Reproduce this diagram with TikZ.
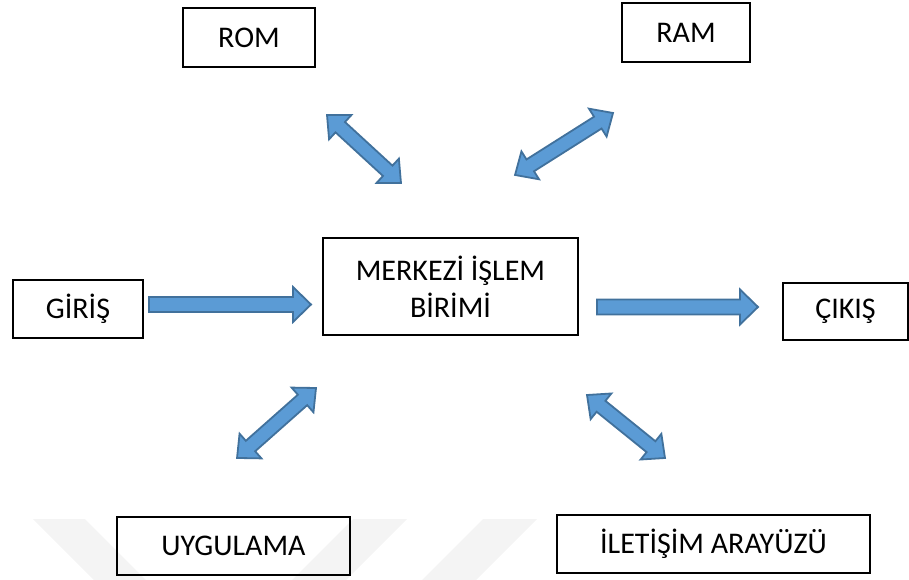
\documentclass[tikz,border=0pt]{standalone}
\usepackage{fontspec}
\setmainfont{Carlito}
\usetikzlibrary{calc}
\definecolor{arrfill}{HTML}{5B9BD5}
\definecolor{arrline}{HTML}{41719C}
\definecolor{wmark}{HTML}{F4F4F4}
\tikzset{
  box/.style={draw=black, line width=2pt, minimum width=#1, minimum height=58pt, inner sep=0pt, align=center, font=\fontsize{30}{37}\selectfont},
  blockarr/.style={fill=arrfill, draw=arrline, line width=1.8pt, line join=miter},
}
% \barrow{from}{to}{1 = double, 0 = single}
\newcommand\barrow[3]{%
  \path (#1); \pgfgetlastxy{\ax}{\ay}%
  \path (#2); \pgfgetlastxy{\bx}{\by}%
  \pgfmathsetmacro\arang{atan2(\by-\ay,\bx-\ax)}%
  \pgfmathsetmacro\arlen{veclen(\bx-\ax,\by-\ay)}%
  \pgfmathsetmacro\arlh{\arlen-18}%
  \begin{scope}[shift={(#1)}, rotate=\arang, x=1pt, y=1pt]
    \ifnum#3=1
      \draw[blockarr] (0,0) -- (18,16.5) -- (18,7) -- (\arlh,7) -- (\arlh,16.5) -- (\arlen,0)
        -- (\arlh,-16.5) -- (\arlh,-7) -- (18,-7) -- (18,-16.5) -- cycle;
    \else
      \draw[blockarr] (0,7.5) -- (\arlh,7.5) -- (\arlh,17.5) -- (\arlen,0)
        -- (\arlh,-17.5) -- (\arlh,-7.5) -- (0,-7.5) -- cycle;
    \fi
  \end{scope}%
}
\begin{document}
\begin{tikzpicture}[x=1pt, y=-1pt]
  \useasboundingbox (0,0) rectangle (909,580);
  % watermark
  \fill[wmark] (33,519) -- (85,519) -- (146,580) -- (94,580) -- cycle;
  \fill[wmark] (353,519) -- (407,519) -- (346,580) -- (292,580) -- cycle;
  \fill[wmark] (483,519) -- (537,519) -- (476,580) -- (422,580) -- cycle;

  % boxes
  \node[box=132pt, minimum height=59pt] (rom) at (249,37.5) {ROM};
  \node[box=128pt, minimum height=59pt] (ram) at (686,32.5) {RAM};
  \node[box=130pt] (giris) at (78,309) {GİRİŞ};
  \node[box=255pt, minimum height=97pt] (cpu) at (450.5,286.5) {MERKEZİ İŞLEM\\BİRİMİ};
  \node[box=125pt, minimum height=57pt] (cikis) at (845.5,311.5) {ÇIKIŞ};
  \node[box=233pt] (uyg) at (233.5,546) {UYGULAMA};
  \node[box=313pt] (ilet) at (713.5,544) {İLETİŞİM ARAYÜZÜ};

  % arrow end points
  \coordinate (a1s) at (149,304.5);
  \coordinate (a1e) at (311,304.5);
  \coordinate (a2s) at (597,307);
  \coordinate (a2e) at (758,307);
  \coordinate (romA) at (327,115);
  \coordinate (romB) at (401,183);
  \coordinate (ramA) at (613,113);
  \coordinate (ramB) at (515,175);
  \coordinate (uygA) at (316,388);
  \coordinate (uygB) at (237,458);
  \coordinate (iletA) at (587,395);
  \coordinate (iletB) at (665,458);

  \barrow{a1s}{a1e}{0}
  \barrow{a2s}{a2e}{0}
  \barrow{romA}{romB}{1}
  \barrow{ramA}{ramB}{1}
  \barrow{uygA}{uygB}{1}
  \barrow{iletA}{iletB}{1}
\end{tikzpicture}
\end{document}
